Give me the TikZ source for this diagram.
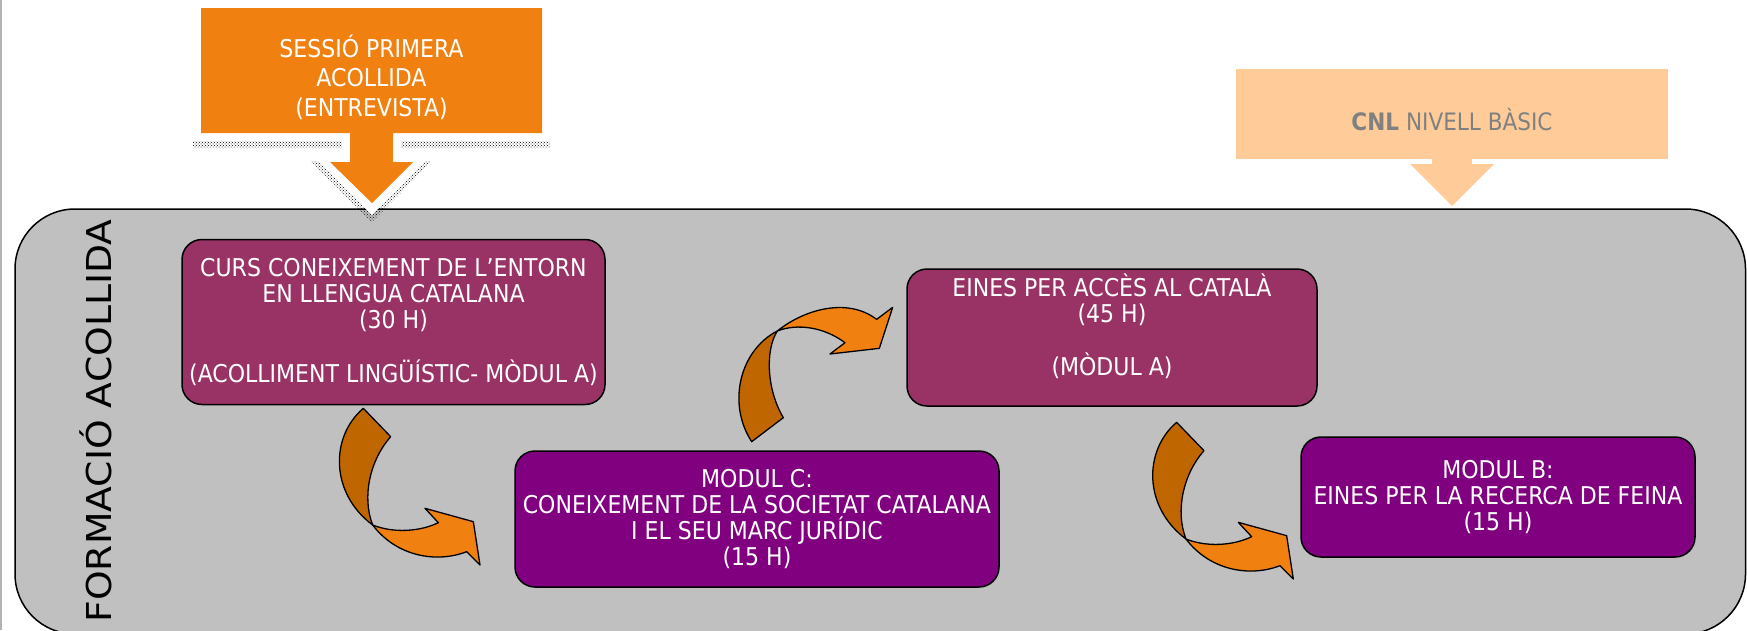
\documentclass[tikz,border=0pt]{standalone}
\usepackage{fontspec}
\setmainfont{DejaVu Sans Condensed}
\newfontfamily\sidefont{DejaVu Sans}[FakeStretch=1.1]
\usetikzlibrary{patterns}
\definecolor{panelgray}{HTML}{C0C0C0}
\definecolor{plum}{HTML}{993366}
\definecolor{modpurple}{HTML}{800080}
\definecolor{arroworange}{HTML}{F08010}
\definecolor{arrowbrown}{HTML}{C06600}
\definecolor{peach}{HTML}{FFCC99}
\definecolor{cnlgray}{HTML}{808080}

\begin{document}
\begin{tikzpicture}[
    x=1pt, y=-1pt,
    modul/.style={
        draw=black,
        line width=1.5pt,
        rounded corners=20pt,
        text=white,
        align=center,
        inner sep=0pt,
        font=\fontsize{24.5}{25.7}\selectfont
    },
    arrowback/.style={fill=arrowbrown, draw=black, line width=1.3pt, line join=round},
    arrowfront/.style={fill=arroworange, draw=black, line width=1.3pt, line join=round},
    % curved block arrows, drawn in a 1/3 pixel grid
    curvedown/.pic={
        \draw[arrowback] (130,25) -- (212,110) .. controls (150,180) and (125,290) .. (158,375)
            .. controls (30,280) and (30,110) .. (130,25) -- cycle;
        \draw[arrowfront] (158,375) .. controls (220,400) and (300,395) .. (355,368)
            -- (315,325) -- (460,365) -- (480,495) -- (440,455)
            .. controls (350,490) and (230,470) .. (158,375) -- cycle;
    },
    curveup/.pic={
        \draw[arrowback] (95,455) -- (190,383) .. controls (140,300) and (135,180) .. (172,123)
            .. controls (60,180) and (20,340) .. (95,455) -- cycle;
        \draw[arrowfront] (172,123) .. controls (250,60) and (380,20) .. (470,88)
            -- (518,52) -- (478,175) -- (330,192) -- (375,158)
            .. controls (310,110) and (230,100) .. (172,123) -- cycle;
    }
]
    \useasboundingbox (0,0) rectangle (1747,630);
    \draw[gray!60, line width=1.5pt] (0.75,0) -- (0.75,630);

    % --- panel ---
    \draw[fill=panelgray, line width=1.5pt, rounded corners=60pt] (15,209) rectangle (1745.5,634);
    \node[rotate=90, font=\sidefont\fontsize{34.3}{40}\selectfont] (formacio) at (96,421) {FORMACIÓ ACOLLIDA};

    % --- 1) first session callout ---
    \fill[pattern=crosshatch dots, pattern color=black, shift={(0,7)}]
        (193,0) -- (550,0) -- (550,141) -- (401,141) -- (401,154) -- (432,154) -- (372,215)
        -- (311,154) -- (342,154) -- (342,141) -- (193,141) -- cycle;
    \fill[white]
        (193,0) -- (550,0) -- (550,141) -- (401,141) -- (401,154) -- (432,154) -- (372,215)
        -- (311,154) -- (342,154) -- (342,141) -- (193,141) -- cycle;
    \fill[arroworange]
        (201,8) -- (542,8) -- (542,133) -- (393,133) -- (393,162) -- (413,162) -- (372,203)
        -- (330,162) -- (350,162) -- (350,133) -- (201,133) -- cycle;
    \node[text=white, align=center, font=\fontsize{24.5}{29.6}\selectfont] (sessio) at (371.5,77)
        {SESSIÓ PRIMERA\\ACOLLIDA\\(ENTREVISTA)};

    % --- 2) CNL callout ---
    \fill[peach] (1236,69) rectangle (1668,159);
    \fill[peach] (1432,159) rectangle (1472,164);
    \fill[peach] (1410,164) -- (1494,164) -- (1452,206) -- cycle;
    \node[text=cnlgray, font=\fontsize{24}{28}\selectfont] (cnl) at (1452,120) {\textbf{CNL} NIVELL BÀSIC};

    % --- modules ---
    \node[modul, fill=plum, minimum width=423pt, minimum height=165pt] (curs) at (393.5,322) {%
        CURS CONEIXEMENT DE L’ENTORN\\EN LLENGUA CATALANA\\(30 H)\\[27pt]%
        (ACOLLIMENT LINGÜÍSTIC- MÒDUL A)};
    \node[modul, fill=modpurple, minimum width=484pt, minimum height=136pt] (modulc) at (757,519) {%
        MODUL C:\\CONEIXEMENT DE LA SOCIETAT CATALANA\\I EL SEU MARC JURÍDIC\\(15 H)};
    \node[modul, fill=plum, minimum width=410pt, minimum height=137pt] (eines) at (1112,337.5) {%
        EINES PER ACCÈS AL CATALÀ\\(45 H)\\[25.7pt](MÒDUL A)\\\mbox{}};
    \node[modul, fill=modpurple, minimum width=394pt, minimum height=120pt] (modulb) at (1498,497) {%
        MODUL B:\\EINES PER LA RECERCA DE FEINA\\(15 H)};

    % --- curved arrows between modules ---
    \pic[shift={(320,400)}, scale=1/3] {curvedown};
    \pic[shift={(720,290)}, scale=1/3] {curveup};
    \pic[shift={(1133.3,414)}, scale=1/3] {curvedown};

\end{tikzpicture}
\end{document}
